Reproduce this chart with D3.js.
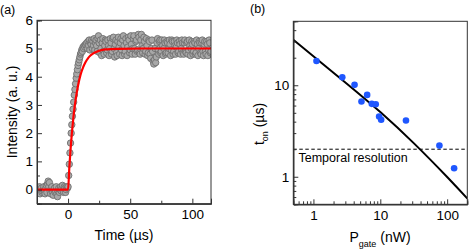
<!DOCTYPE html>
<html><head><meta charset="utf-8">
<script src="https://cdn.jsdelivr.net/npm/d3@7"></script>
<style>
html,body{margin:0;padding:0;background:#fff;}
svg{display:block;font-family:"Liberation Sans",Arial,sans-serif;}
</style></head>
<body><svg id="c" width="469" height="250"></svg>
<script>
// ---- Panel (a) data: intensity (a.u.) sampled every 0.5 µs from -25 µs
const timeStart = -25;
const timeStep = 0.5;
const baseline = [
 -0.05,0.05,-0.1,0.0,0.1,-0.15,0.0,0.05,-0.1,-0.05,
 0.0,0.1,-0.05,-0.15,0.05,0.15,-0.1,0.2,0.3,0.1,
 0.25,-0.05,-0.15,0.05,0.1,-0.1,-0.2,0.0,0.05,-0.1,
 -0.05,0.1,-0.15,-0.25,-0.05,0.05,-0.1,0.0,0.1,-0.05,
 0.05,0.15,-0.05,-0.1,0.1,0.05,-0.1,0.0,0.1,0.05
];
const rise = [
 0.1,0.5,0.9,1.3,1.65,2.0,2.3,2.6,2.85,3.1,3.35,3.55,3.75,3.95,4.1,4.25,
 4.4,4.5,4.6,4.7,4.8,4.85,4.95,4.9,5.05,5.0,5.1,5.05,5.15,5.1,5.2
];
const plateau = [
 5.0,5.25,5.1,5.3,4.95,5.2,5.15,5.3,5.0,5.25,
 5.1,5.35,4.95,5.2,5.3,5.1,4.9,5.35,5.45,5.2,
 4.85,5.3,5.0,4.75,5.2,5.35,4.9,4.8,5.1,5.3,
 5.25,4.85,4.95,5.3,5.1,4.75,5.0,5.35,5.2,4.8,
 4.9,5.35,5.4,5.0,4.7,5.15,5.3,4.85,4.75,5.25,
 5.4,5.05,4.8,5.2,5.35,4.95,4.75,5.3,5.45,5.1,
 4.8,4.9,5.35,5.2,4.75,5.05,5.4,5.3,4.85,4.95,
 5.45,5.15,4.8,5.0,5.35,5.45,5.0,4.8,5.25,5.3,
 4.9,4.95,5.5,5.4,4.85,4.8,5.3,5.5,5.1,4.85,
 5.0,5.4,5.25,4.8,4.9,5.35,5.1,4.75,4.85,5.3,
 5.25,4.8,4.65,5.0,5.3,4.9,4.55,4.45,4.6,5.0,
 4.5,4.7,5.2,5.35,4.95,4.8,5.25,5.3,4.85,4.9,
 5.3,5.1,4.75,5.0,5.3,5.2,4.8,4.85,5.25,5.2,
 4.85,5.0,5.3,5.15,4.75,4.95,5.3,5.25,4.8,4.9,
 5.25,5.1,4.8,5.05,5.3,5.2,4.85,4.9,5.25,5.15,
 4.8,5.0,5.3,5.2,4.85,4.8,5.2,5.3,4.9,4.85,
 5.2,5.25,4.8,4.95,5.3,5.1,4.75,5.0,5.25,5.15,
 4.8,4.9,5.25,5.2,4.8,4.85,5.3,5.15,4.75,5.0,
 5.25,5.2,4.85,4.8,5.2,5.3,4.9,4.75,5.15,5.25,
 4.9,4.8,5.25,5.15,4.75,4.95,5.3,5.2,4.85,4.9
];
const intensity = baseline.concat(rise, plateau);
// red fit curve sampled (time, intensity)
const fitTime = [-25,0,1,2,3,4,5,6,8,10,12,14,16,18,20,25,30,40,60,115];
const fitIntensity = [0,0,0.77,1.42,1.97,2.43,2.83,3.16,3.68,4.06,4.32,4.51,4.65,4.75,4.82,4.92,4.97,4.99,5.0,5.0];
const aYTicks = [0,1,2,3,4,5,6];
const aXTicks = [0,50,100];

// ---- Panel (b) data: gate power (nW) vs t_on (µs)
const pGate = [1.11,2.70,4.12,6.36,5.23,7.45,8.55,9.6,10.3,24.2,76.6,127];
const tOn =   [18.4,12.2,10.1,7.85,6.64,6.26,6.2,4.56,4.2,4.12,2.19,1.24];
const fitP = [0.5,3.16,10,31.6,100,200];
const fitT = [31.5,10.4,5.09,2.33,0.993,0.578];
const temporalResolution = 2;
const bXTicks = [1,10,100];
const bYTicks = [1,10];

const svg = d3.select("#c");
const font = "Liberation Sans, Arial, sans-serif";

// ================= Panel (a) =================
const ax = d3.scaleLinear().domain([-25,115]).range([37,211]);
const ay = d3.scaleLinear().domain([-0.5,6]).range([203.7,20.3]);
const ga = svg.append("g");

const aData = intensity.map((v,i)=>({t:timeStart+i*timeStep, v}));
svg.append("clipPath").attr("id","clipA").append("rect")
  .attr("x",37).attr("y",20.3).attr("width",174).attr("height",183.4);
const gaData = ga.append("g").attr("clip-path","url(#clipA)");
gaData.selectAll("circle").data(aData).join("circle")
  .attr("cx",d=>ax(d.t)).attr("cy",d=>ay(d.v)).attr("r",3.2)
  .attr("fill","#a8a8a8").attr("stroke","#6f6f6f").attr("stroke-width",0.9);
gaData.append("path")
  .datum(fitTime.map((t,i)=>[t,fitIntensity[i]]))
  .attr("d", d3.line().x(d=>ax(d[0])).y(d=>ay(d[1])).curve(d3.curveMonotoneX))
  .attr("fill","none").attr("stroke","#ff0000").attr("stroke-width",2.2);

ga.append("g").attr("transform","translate(37,0)")
  .call(d3.axisLeft(ay).tickValues(aYTicks).tickSize(-5).tickPadding(4).tickFormat(d3.format("d")));
ga.append("g").attr("transform","translate(37,0)")
  .call(d3.axisLeft(ay).tickValues(d3.range(-0.5,6,1)).tickSize(-3).tickFormat(""));
ga.append("g").attr("transform","translate(0,203.7)")
  .call(d3.axisBottom(ax).tickValues(aXTicks).tickSize(-5).tickPadding(6).tickFormat(d3.format("d")));
ga.append("g").attr("transform","translate(0,203.7)")
  .call(d3.axisBottom(ax).tickValues([25,75]).tickSize(-3).tickFormat(""));
ga.append("rect").attr("x",37).attr("y",20.3).attr("width",174).attr("height",183.4)
  .attr("fill","none").attr("stroke","#333").attr("stroke-width",1);
ga.append("text").attr("x",0).attr("y",14).attr("font-size",12.5).text("(a)");
ga.append("text").attr("x",124).attr("y",240).attr("text-anchor","middle").attr("font-size",14).text("Time (µs)");
ga.append("text").attr("transform","translate(17,112) rotate(-90)").attr("text-anchor","middle")
  .attr("font-size",14).text("Intensity (a. u.)");

// ================= Panel (b) =================
const bx = d3.scaleLog().domain([0.5,200]).range([293.3,467.3]);
const by = d3.scaleLog().domain([0.5,50]).range([204.3,21.3]);
const gb = svg.append("g");
svg.append("clipPath").attr("id","clipB").append("rect")
  .attr("x",293.3).attr("y",21.3).attr("width",174).attr("height",183);
const gbData = gb.append("g").attr("clip-path","url(#clipB)");
gbData.append("line").attr("x1",293.3).attr("x2",467.3)
  .attr("y1",by(temporalResolution)).attr("y2",by(temporalResolution))
  .attr("stroke","#000").attr("stroke-width",1).attr("stroke-dasharray","3.5,2.5");
gbData.append("path")
  .datum(fitP.map((p,i)=>[p,fitT[i]]))
  .attr("d", d3.line().x(d=>bx(d[0])).y(d=>by(d[1])).curve(d3.curveNatural))
  .attr("fill","none").attr("stroke","#000").attr("stroke-width",2);
gbData.selectAll("circle").data(pGate.map((p,i)=>[p,tOn[i]])).join("circle")
  .attr("cx",d=>bx(d[0])).attr("cy",d=>by(d[1])).attr("r",3.3).attr("fill","#1f57ff");

const minorX = [0.6,0.7,0.8,0.9,2,3,4,5,6,7,8,9,20,30,40,50,60,70,80,90];
const minorY = [0.6,0.7,0.8,0.9,2,3,4,5,6,7,8,9,20,30,40];
gb.append("g").attr("transform","translate(293.3,0)")
  .call(d3.axisLeft(by).tickValues(bYTicks).tickSize(-5).tickPadding(4).tickFormat(d3.format("d")));
gb.append("g").attr("transform","translate(293.3,0)")
  .call(d3.axisLeft(by).tickValues(minorY).tickSize(-3).tickFormat(""));
gb.append("g").attr("transform","translate(0,204.3)")
  .call(d3.axisBottom(bx).tickValues(bXTicks).tickSize(-5).tickPadding(6).tickFormat(d3.format("d")));
gb.append("g").attr("transform","translate(0,204.3)")
  .call(d3.axisBottom(bx).tickValues(minorX).tickSize(-3).tickFormat(""));
gb.append("rect").attr("x",293.3).attr("y",21.3).attr("width",174).attr("height",183)
  .attr("fill","none").attr("stroke","#333").attr("stroke-width",1);
gb.append("text").attr("x",250).attr("y",13).attr("font-size",12.5).text("(b)");
gb.append("text").attr("x",298.5).attr("y",162).attr("font-size",12.5).text("Temporal resolution");
const yl = gb.append("text").attr("transform","translate(264,124) rotate(-90)").attr("text-anchor","middle").attr("font-size",14);
yl.append("tspan").text("t");
yl.append("tspan").attr("font-size",9).attr("dy",4).text("on");
yl.append("tspan").attr("dy",-4).text(" (µs)");
const xl = gb.append("text").attr("x",380).attr("y",242).attr("text-anchor","middle").attr("font-size",14);
xl.append("tspan").text("P");
xl.append("tspan").attr("font-size",9).attr("dy",5).text("gate");
xl.append("tspan").attr("dy",-5).text(" (nW)");

svg.selectAll(".tick text").attr("font-size",13.5).attr("font-family",font).attr("fill","#000");
svg.selectAll(".domain").attr("stroke","#333");
svg.selectAll(".tick line").attr("stroke","#333");
</script></body></html>
